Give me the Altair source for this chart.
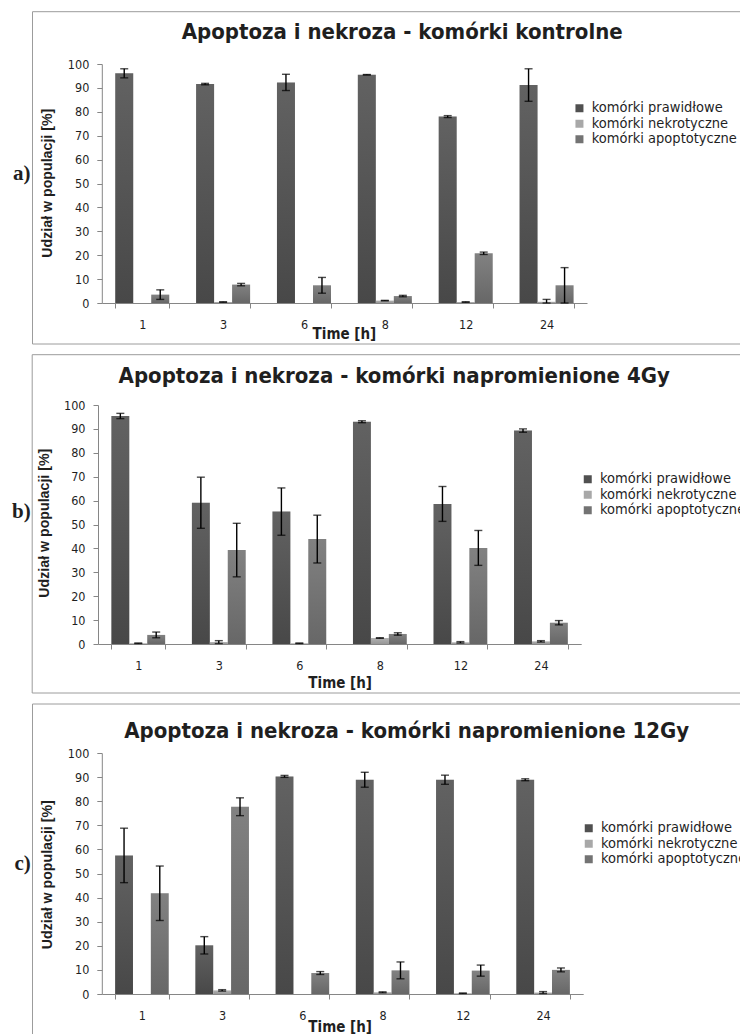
import altair as alt
import pandas as pd

times = ["1", "3", "6", "8", "12", "24"]
series = ["komórki prawidłowe", "komórki nekrotyczne", "komórki apoptotyczne"]
colors = ["#505050", "#a8a8a8", "#737373"]

titles = [
    "Apoptoza i nekroza - komórki kontrolne",
    "Apoptoza i nekroza - komórki napromienione 4Gy",
    "Apoptoza i nekroza - komórki napromienione 12Gy",
]
letters = ["a)", "b)", "c)"]
y_title = "Udział w populacji [%]"
x_title = "Time [h]"

# panel a (kontrolne)
a_praw = [96.1, 91.6, 92.3, 95.5, 78.0, 91.2]
a_praw_err = [1.9, 0.3, 3.4, 0.1, 0.4, 6.8]
a_nekro = [0.0, 0.4, 0.0, 1.0, 0.4, 0.5]
a_nekro_err = [0.0, 0.1, 0.0, 0.1, 0.1, 1.0]
a_apo = [3.5, 7.7, 7.4, 2.9, 20.8, 7.4]
a_apo_err = [2.0, 0.5, 3.3, 0.3, 0.5, 7.4]

# panel b (4Gy)
b_praw = [95.4, 59.1, 55.4, 93.0, 58.6, 89.3]
b_praw_err = [1.1, 10.7, 9.9, 0.4, 7.3, 0.7]
b_nekro = [0.3, 0.8, 0.3, 2.5, 0.7, 1.1]
b_nekro_err = [0.1, 0.6, 0.1, 0.1, 0.3, 0.3]
b_apo = [3.8, 39.3, 43.9, 4.2, 40.2, 8.9]
b_apo_err = [1.2, 11.2, 10.0, 0.5, 7.3, 0.9]

# panel c (12Gy)
c_praw = [57.5, 20.2, 90.3, 88.9, 88.9, 88.9]
c_praw_err = [11.3, 3.6, 0.4, 3.1, 1.9, 0.4]
c_nekro = [0.0, 1.5, 0.0, 0.7, 0.3, 0.6]
c_nekro_err = [0.0, 0.3, 0.0, 0.2, 0.1, 0.4]
c_apo = [41.8, 77.7, 8.7, 9.8, 9.7, 10.0]
c_apo_err = [11.3, 3.7, 0.6, 3.5, 2.3, 0.8]

TICK_FONT = "DejaVu Sans Condensed"
TXT = "#1f1f1f"
BOX = "#9c9c9c"


def make_df(praw, praw_e, nek, nek_e, apo, apo_e):
    rows = []
    for s, vals, errs in zip(series, [praw, nek, apo], [praw_e, nek_e, apo_e]):
        for t, v, e in zip(times, vals, errs):
            rows.append(dict(time=t, series=s, value=v, err=e,
                             lo=max(0.0, v - e), hi=v + e))
    return pd.DataFrame(rows)


def one(txt):
    return alt.Chart(pd.DataFrame({"t": [txt]}))


def panel(df, idx, xrange, yoff, height, ytop, leg_xy, title_xy, time_xy,
          ytitle_xy, letter_xy, box):
    x = alt.X("time:N", sort=times,
              scale=alt.Scale(range=xrange, paddingInner=0.332, paddingOuter=0.166),
              axis=alt.Axis(title=None, labelAngle=0, tickBand="extent",
                            labelPadding=10, tickSize=5))
    xo = alt.XOffset("series:N", sort=series,
                     scale=alt.Scale(domain=series, paddingInner=0, paddingOuter=0))
    yaxis = alt.Axis(title=None, values=list(range(0, 101, 10)), offset=yoff,
                     tickSize=5, labelPadding=8, grid=False)
    yscale = alt.Scale(domain=[0, 100], range=[height, ytop])

    bars = alt.Chart(df).mark_bar().encode(
        x=x, xOffset=xo,
        y=alt.Y("value:Q", scale=yscale, axis=yaxis),
        color=alt.Color("series:N", sort=series,
                        scale=alt.Scale(domain=series, range=colors),
                        legend=alt.Legend(orient="none", legendX=leg_xy[0],
                                          legendY=leg_xy[1], title=None,
                                          symbolType="square", symbolSize=64,
                                          symbolStrokeWidth=0,
                                          labelFont=TICK_FONT, labelFontSize=14.5,
                                          labelColor=TXT, rowPadding=0.5,
                                          padding=0, labelOffset=5,
                                          labelLimit=400)),
    )
    grad = alt.LinearGradient(
        gradient="linear",
        stops=[alt.GradientStop(color="rgba(255,255,255,0.10)", offset=0),
               alt.GradientStop(color="rgba(0,0,0,0.10)", offset=1)],
        x1=0, x2=0, y1=0, y2=1)
    overlay = alt.Chart(df).mark_bar(fill=grad).encode(
        x=x, xOffset=xo, y=alt.Y("value:Q", scale=yscale, axis=yaxis))

    edf = df[df["err"] > 0]
    rules = alt.Chart(edf).mark_rule(color="black", strokeWidth=1.4).encode(
        x=x, xOffset=xo, y=alt.Y("lo:Q", scale=yscale, axis=yaxis), y2="hi:Q")
    cap_lo = alt.Chart(edf).mark_tick(color="black", size=8, thickness=1.4,
                                      orient="horizontal").encode(
        x=x, xOffset=xo, y=alt.Y("lo:Q", scale=yscale, axis=yaxis))
    cap_hi = alt.Chart(edf).mark_tick(color="black", size=8, thickness=1.4,
                                      orient="horizontal").encode(
        x=x, xOffset=xo, y=alt.Y("hi:Q", scale=yscale, axis=yaxis))

    ttl = one(titles[idx]).mark_text(font=TICK_FONT, fontSize=22, fontWeight="bold",
                                     color=TXT, align="center", baseline="middle").encode(
        x=alt.value(title_xy[0]), y=alt.value(title_xy[1]), text="t:N")
    tlab = one(x_title).mark_text(font=TICK_FONT, fontSize=15, fontWeight="bold",
                                  color=TXT, align="center", baseline="middle").encode(
        x=alt.value(time_xy[0]), y=alt.value(time_xy[1]), text="t:N")
    ylab = one(y_title).mark_text(font="Liberation Sans", fontSize=14.2,
                                  fontWeight="bold", color=TXT, angle=270,
                                  align="center", baseline="middle").encode(
        x=alt.value(ytitle_xy[0]), y=alt.value(ytitle_xy[1]), text="t:N")
    let = one(letters[idx]).mark_text(font="Liberation Serif", fontSize=21,
                                      fontWeight="bold", color=TXT, align="left",
                                      baseline="middle").encode(
        x=alt.value(letter_xy[0]), y=alt.value(letter_xy[1]), text="t:N")

    left, top, bottom, right = box
    lines = [
        one("").mark_rule(color=BOX, strokeWidth=1).encode(
            x=alt.value(left), x2=alt.value(right), y=alt.value(top)),
        one("").mark_rule(color=BOX, strokeWidth=1).encode(
            x=alt.value(left), y=alt.value(top), y2=alt.value(bottom)),
    ]
    if idx < 2:
        lines.append(one("").mark_rule(color=BOX, strokeWidth=1).encode(
            x=alt.value(left), x2=alt.value(right), y=alt.value(bottom)))

    return alt.layer(*lines, bars, overlay, rules, cap_lo, cap_hi, ttl, tlab, ylab, let
                     ).properties(width=489, height=height)


pa = panel(make_df(a_praw, a_praw_err, a_nekro, a_nekro_err, a_apo, a_apo_err), 0,
           [3.8, 489], -3.8, 239, 0, (474.2, 37), (304.2, -31.6), (246.4, 269.7),
           (-50.1, 119.2), (-85.1, 109.7), (-65.5, -52.3, 280, 660))
pb = panel(make_df(b_praw, b_praw_err, b_nekro, b_nekro_err, b_apo, b_apo_err), 1,
           [0, 483.2], 0, 239, 0, (482.5, 67), (296.2, -29.3), (242.2, 277.7),
           (-52.8, 118.2), (-85.9, 107.4), (-65.8, -50.3, 288, 660))
# panel c starts 7 px lower inside its cell (its plot begins at y = 7)
pc = panel(make_df(c_praw, c_praw_err, c_nekro, c_nekro_err, c_apo, c_apo_err), 2,
           [3.8, 485.2], -3.8, 248, 7, (483.5, 75), (308.7, -15.3), (242.2, 281.2),
           (-50.1, 128.7), (-83.5, 118.0), (-65.5, -42.0, 288, 660))

chart = alt.vconcat(pa, pb, pc, spacing=102, bounds="flush").resolve_scale(
    x="independent", y="independent", xOffset="independent", color="independent"
).resolve_legend(color="independent").properties(
    padding={"left": 4, "top": 3, "right": -19, "bottom": 0}
).configure_view(stroke=None).configure_axis(
    domainColor="#868686", tickColor="#868686", labelFont=TICK_FONT,
    labelFontSize=12.5, labelColor=TXT, grid=False
)

chart.save("out.html", embed_options={"renderer": "svg", "actions": False})
